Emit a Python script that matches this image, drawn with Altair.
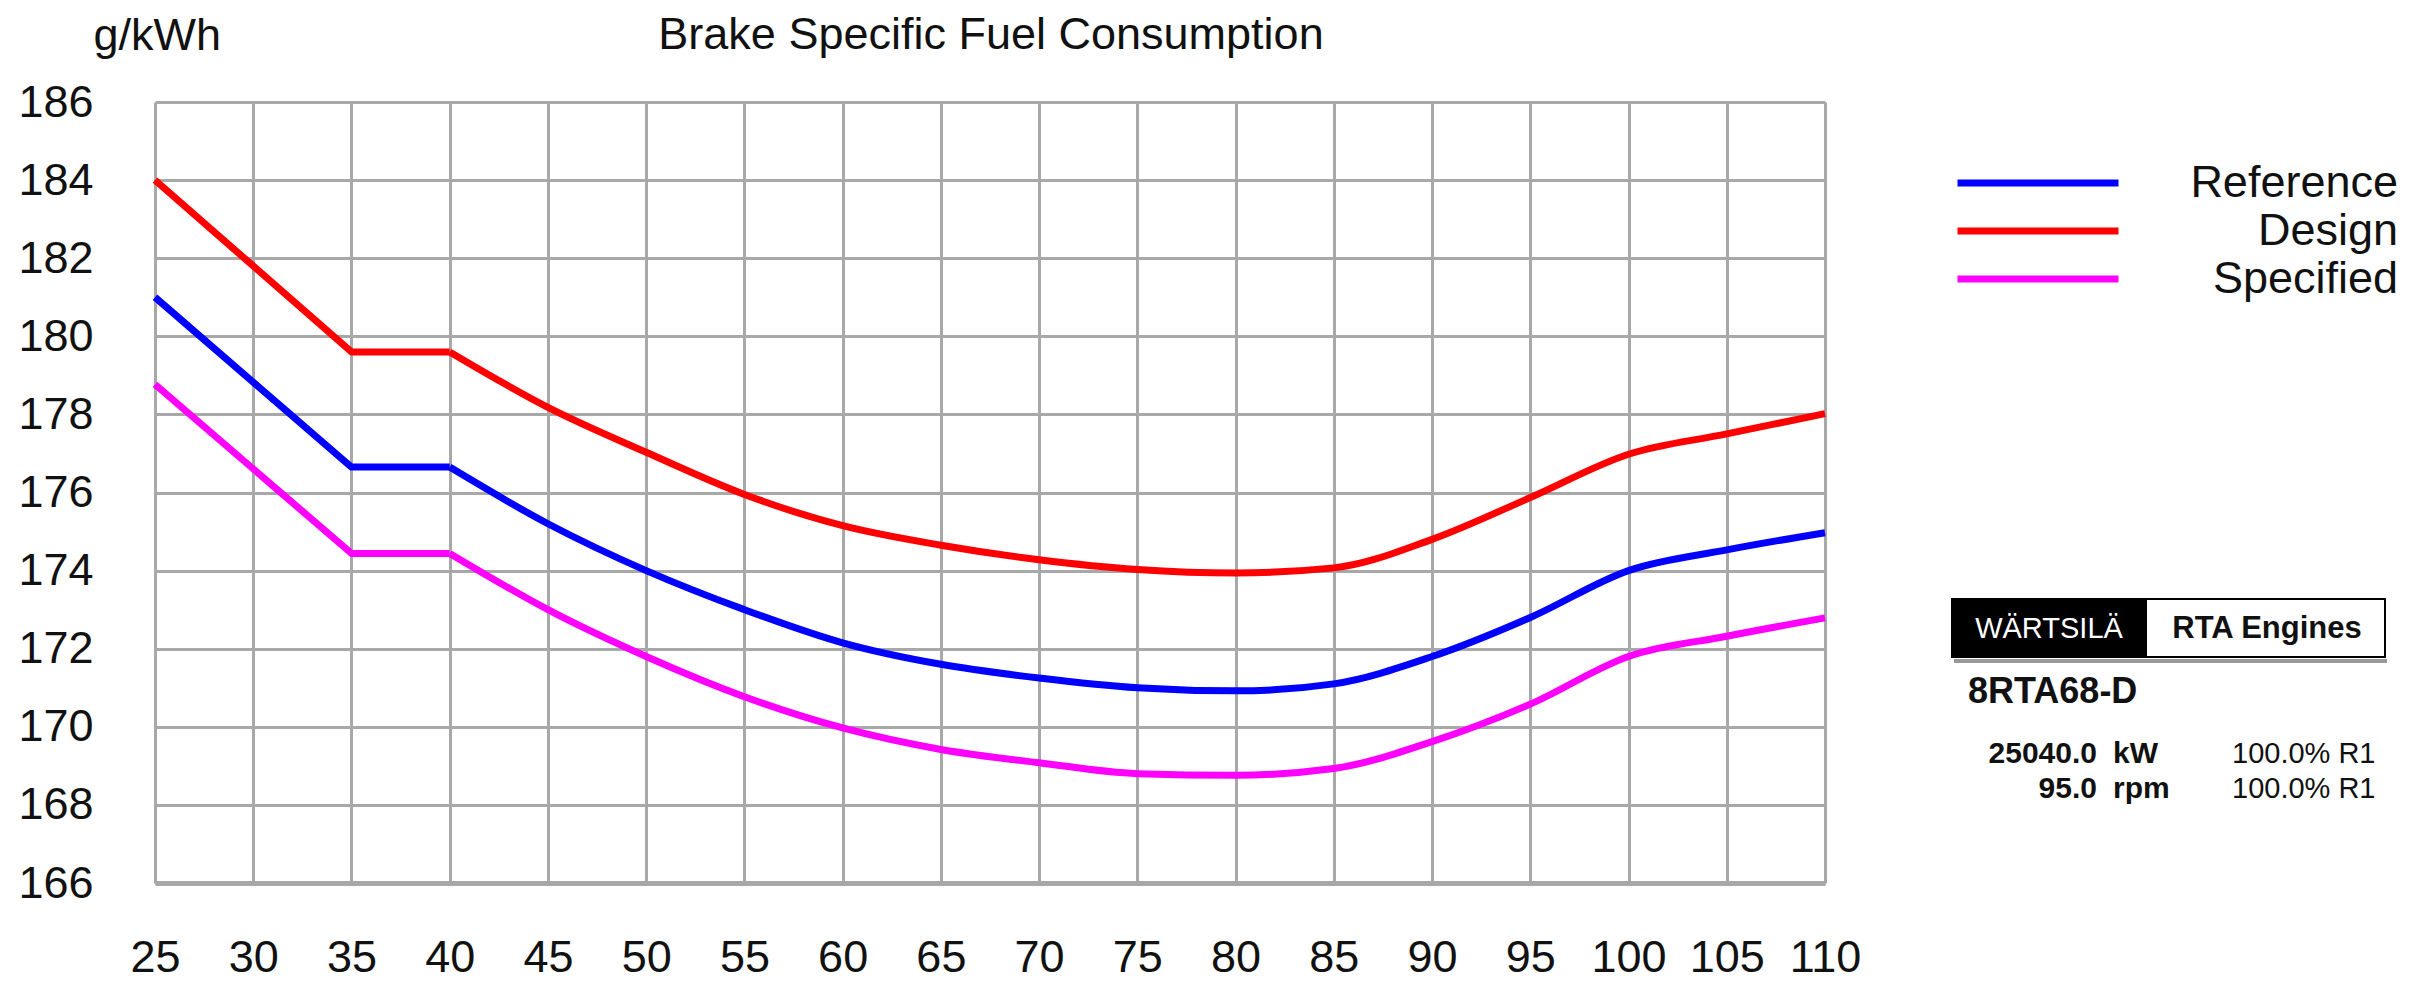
import altair as alt
import pandas as pd

# ---- data ----
load_pct = [25, 35, 40, 45, 50, 55, 60, 65, 70, 75, 80, 85, 90, 95, 100, 105, 110]
reference = [181.0, 176.65, 176.65, 175.2, 174.0, 173.0, 172.15, 171.6, 171.25, 171.0, 170.92, 171.1, 171.8, 172.8, 174.0, 174.53, 174.97]
design = [184.0, 179.6, 179.6, 178.18, 177.03, 175.95, 175.15, 174.65, 174.28, 174.03, 173.94, 174.07, 174.8, 175.87, 176.98, 177.5, 178.02]
specified = [178.77, 174.44, 174.44, 173.0, 171.8, 170.77, 169.97, 169.42, 169.08, 168.8, 168.76, 168.93, 169.62, 170.58, 171.8, 172.32, 172.79]
series = ["Reference", "Design", "Specified"]
colors = ["#0000ff", "#ff0000", "#ff00ff"]
x_ticks = list(range(25, 111, 5))
y_ticks = list(range(166, 187, 2))

chart_title = "Brake Specific Fuel Consumption"
y_unit = "g/kWh"
brand = "WÄRTSILÄ"
product = "RTA Engines"
engine = "8RTA68-D"
power_val, power_unit, power_pct = "25040.0", "kW", "100.0% R1"
speed_val, speed_unit, speed_pct = "95.0", "rpm", "100.0% R1"

rows = []
for name, vals in zip(series, [reference, design, specified]):
    for x, v in zip(load_pct, vals):
        rows.append({"load": x, "bsfc": v, "series": name})
df = pd.DataFrame(rows)

FONT = "Liberation Sans"
INK = "#111111"
GRID = "#a8a8a8"
W, H = 1670, 781

x_enc = alt.X(
    "load:Q",
    scale=alt.Scale(domain=[25, 110], nice=False, zero=False),
    axis=alt.Axis(values=x_ticks, title=None, grid=True, gridColor=GRID, gridWidth=3,
                  ticks=False, tickSize=0, domain=True, domainColor=GRID, domainWidth=5,
                  labelFont=FONT, labelFontSize=45, labelColor=INK, labelPadding=88,
                  labelBaseline="alphabetic", labelFlush=False, labelOverlap=False),
)
y_enc = alt.Y(
    "bsfc:Q",
    scale=alt.Scale(domain=[166, 186], nice=False, zero=False),
    axis=alt.Axis(values=y_ticks, title=y_unit, titleAngle=0, titleX=-62, titleY=-53,
                  titleAlign="left", titleBaseline="alphabetic", titleFont=FONT,
                  titleFontSize=45, titleFontWeight="normal", titleColor=INK,
                  grid=True, gridColor=GRID, gridWidth=3, ticks=False, tickSize=0,
                  domain=False, labelFont=FONT, labelFontSize=45, labelColor=INK,
                  labelPadding=62, labelFlush=False, labelOverlap=False),
)
color_enc = alt.Color(
    "series:N",
    scale=alt.Scale(domain=series, range=colors),
    legend=alt.Legend(title=None, orient="none", legendX=1799, legendY=57,
                      symbolType="stroke", symbolSize=161 * 161, symbolStrokeWidth=7,
                      labelAlign="right", labelOffset=276, labelFont=FONT,
                      labelFontSize=45, labelColor=INK, labelLimit=0,
                      clipHeight=48, rowPadding=0, padding=0),
)

base = alt.Chart(df).encode(x=x_enc, y=y_enc, color=color_enc, order="load:Q")
# straight part (steep drop and plateau) and the smooth bowl of the curve
lines_low = base.mark_line(strokeWidth=7, strokeJoin="round").transform_filter(
    alt.datum.load <= 40)
lines_bowl = base.mark_line(strokeWidth=7, strokeJoin="round",
                            interpolate="monotone").transform_filter(alt.datum.load >= 40)

one = alt.Data(values=[{}])


def label(text, x, y, size, weight="normal", align="left", baseline="alphabetic", color=INK):
    return alt.Chart(one).mark_text(
        text=text, font=FONT, fontSize=size, fontWeight=weight, align=align,
        baseline=baseline, color=color
    ).encode(x=alt.value(x), y=alt.value(y))


title = label(chart_title, 836, -53, 45, align="center")

box = alt.Chart(one).mark_rect(fill="white", stroke="black", strokeWidth=2).encode(
    x=alt.value(1797), x2=alt.value(2230), y=alt.value(497), y2=alt.value(555))
black = alt.Chart(one).mark_rect(fill="black").encode(
    x=alt.value(1797), x2=alt.value(1992), y=alt.value(497), y2=alt.value(555))
shadow = alt.Chart(one).mark_rule(stroke="#999999", strokeWidth=4).encode(
    x=alt.value(1799), x2=alt.value(2232), y=alt.value(559))

texts = [
    label(brand, 1894, 527, 29, align="center", baseline="middle", color="white"),
    label(product, 2112, 527, 31, weight="bold", align="center", baseline="middle"),
    label(engine, 1813, 601, 36, weight="bold"),
    label(power_val, 1942, 661, 30, weight="bold", align="right"),
    label(power_unit, 1958, 661, 30, weight="bold"),
    label(power_pct, 2077, 661, 29),
    label(speed_val, 1942, 696, 30, weight="bold", align="right"),
    label(speed_unit, 1958, 696, 30, weight="bold"),
    label(speed_pct, 2077, 696, 29),
]

chart = alt.layer(lines_low, lines_bowl, title, box, black, shadow, *texts).properties(
    width=W, height=H,
    padding={"left": 147, "top": 94, "right": 573, "bottom": 99},
    autosize=alt.AutoSizeParams(type="none"),
).configure_view(stroke=None).configure(background="white")

chart.save("out.html", embed_options={"renderer": "svg", "actions": False})
